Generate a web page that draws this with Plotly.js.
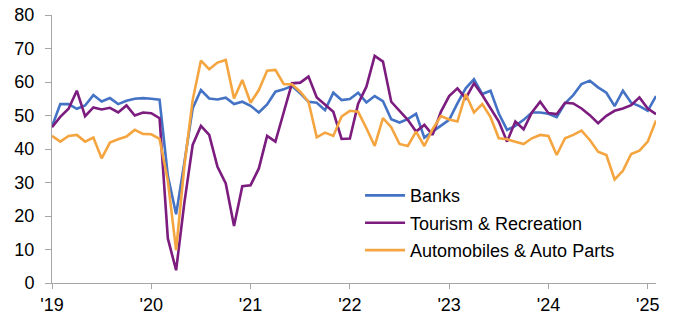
<!DOCTYPE html>
<html>
<head>
<meta charset="utf-8">
<script src="https://cdn.plot.ly/plotly-3.0.1.min.js"></script>
<style>
  html, body { margin: 0; padding: 0; background: #ffffff; }
  #chart { width: 675px; height: 314px; }
</style>
</head>
<body>
<div id="chart"></div>
<script>
// Monthly observations, Jan 2019 – Feb 2025
const startYear = 2019;
const monthCount = 74;

const banks = [
  46.7, 53.4, 53.4, 52.0, 53.0, 56.1, 54.2, 55.2, 53.4, 54.4, 55.0, 55.2,
  55.0, 54.7, 32.0, 20.5, 36.0, 52.1, 57.6, 55.1, 54.8, 55.3, 53.4, 54.1,
  52.9, 50.9, 53.3, 57.1, 57.8, 58.8, 56.6, 54.1, 53.8, 51.6, 56.8, 54.6,
  54.9, 56.8, 53.9, 55.8, 54.3, 48.9, 47.9, 48.9, 50.5, 43.4, 45.2, 46.9,
  48.7, 53.6, 58.1, 60.8, 56.4, 57.4, 50.6, 45.7, 46.9, 48.7, 50.9, 50.9,
  50.5, 49.5, 53.6, 56.1, 59.4, 60.4, 58.4, 56.8, 52.8, 57.4, 53.8, 52.8,
  51.4, 55.8
];

const tourism = [
  46.5, 49.6, 52.0, 57.4, 49.8, 52.4, 51.8, 52.3, 50.9, 53.0, 50.0, 50.9,
  50.7, 49.2, 13.3, 3.8, 24.0, 41.2, 46.9, 44.2, 34.7, 29.7, 17.0, 28.9,
  29.2, 34.2, 43.9, 42.2, 50.9, 59.6, 59.8, 61.6, 55.4, 53.1, 51.1, 43.0,
  43.1, 53.5, 58.6, 67.8, 66.1, 54.1, 51.4, 48.7, 45.2, 47.2, 44.2, 51.1,
  55.8, 58.1, 55.1, 59.6, 56.1, 52.1, 48.2, 42.2, 48.2, 45.9, 50.9, 54.1,
  50.7, 50.4, 53.8, 53.6, 52.1, 50.1, 47.7, 49.9, 51.4, 52.1, 53.1, 55.4,
  52.1, 50.4
];

const autos = [
  43.9, 42.2, 43.9, 44.2, 42.2, 43.4, 37.2, 41.9, 42.9, 43.7, 45.7, 44.5,
  44.4, 43.0, 30.5, 9.8, 35.0, 54.6, 66.4, 63.8, 65.8, 66.6, 55.1, 60.6,
  53.8, 57.6, 63.4, 63.6, 59.4, 59.3, 57.1, 54.1, 43.5, 44.9, 43.9, 49.7,
  51.4, 51.1, 46.2, 40.9, 49.2, 46.5, 41.5, 40.9, 45.2, 40.9, 45.9, 49.8,
  48.8, 48.2, 56.4, 50.9, 53.4, 49.5, 43.2, 42.9, 42.2, 41.5, 43.2, 44.2,
  43.9, 38.2, 43.2, 44.2, 45.5, 42.7, 39.2, 38.2, 30.9, 33.5, 38.5, 39.5,
  42.2, 48.5
];

const seriesNames = ["Banks", "Tourism & Recreation", "Automobiles & Auto Parts"];
const tickYears = ["2019-01", "2020-01", "2021-01", "2022-01", "2023-01", "2024-01", "2025-01"];
const tickLabels = ["'19", "'20", "'21", "'22", "'23", "'24", "'25"];
const yTicks = [0, 10, 20, 30, 40, 50, 60, 70, 80];

// month categories
const months = [];
for (let i = 0; i < monthCount; i++) {
  const y = startYear + Math.floor(i / 12);
  const m = (i % 12) + 1;
  months.push(y + "-" + String(m).padStart(2, "0"));
}

const colors = ["#4472C4", "#7B1C7E", "#F5A540"];
const values = [banks, tourism, autos];

const traces = values.map((v, i) => ({
  type: "scatter",
  mode: "lines",
  x: months,
  y: v,
  name: seriesNames[i],
  legendgroup: "g" + i,
  line: { color: colors[i], width: 2.6 },
  hoverinfo: "skip"
}));

const fontFam = "Liberation Sans, Arial, sans-serif";

const layout = {
  width: 675,
  height: 314,
  margin: { l: 52, r: 19, t: 15, b: 31, pad: 0 },
  paper_bgcolor: "#ffffff",
  plot_bgcolor: "#ffffff",
  font: { family: fontFam, size: 18, color: "#000000" },
  showlegend: true,
  legend: {
    x: 0.51, y: 0.395, xanchor: "left", yanchor: "top",
    bgcolor: "rgba(0,0,0,0)",
    font: { family: fontFam, size: 18, color: "#000000" },
    tracegroupgap: 1,
    itemwidth: 40
  },
  xaxis: {
    type: "category",
    range: [0, monthCount - 1],
    tickmode: "array",
    tickvals: tickYears,
    ticktext: tickLabels,
    showgrid: false,
    zeroline: false,
    showline: true,
    linecolor: "#a6a6a6",
    linewidth: 1,
    ticks: "outside",
    ticklen: 5,
    tickcolor: "#a6a6a6",
    tickfont: { family: fontFam, size: 18, color: "#000000" }
  },
  yaxis: {
    range: [0, 80],
    tickmode: "array",
    tickvals: yTicks,
    showgrid: false,
    zeroline: false,
    showline: true,
    linecolor: "#a6a6a6",
    linewidth: 1,
    ticks: "outside",
    ticklen: 6,
    tickcolor: "#a6a6a6",
    ticklabelstandoff: 7,
    tickfont: { family: fontFam, size: 18, color: "#000000" }
  }
};

Plotly.newPlot("chart", traces, layout, { staticPlot: true, displayModeBar: false });
</script>
</body>
</html>
